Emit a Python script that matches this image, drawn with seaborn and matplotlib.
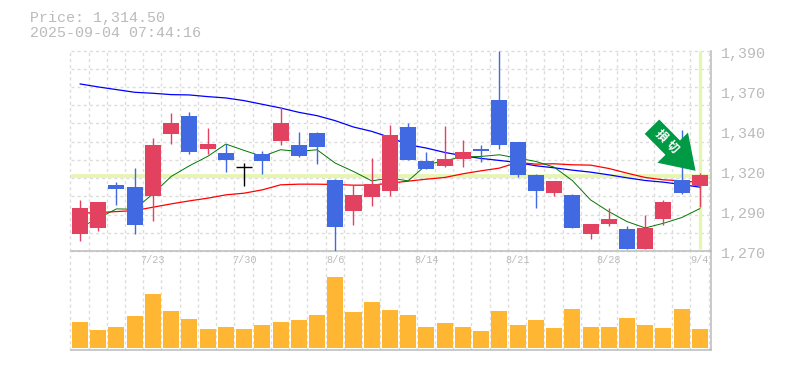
import numpy as np
import pandas as pd
import matplotlib
matplotlib.use("Agg")
import matplotlib.pyplot as plt
import seaborn as sns

opens = [1280.2,1283.8,1309.6,1308.4,1303.0,1340.2,1351.0,1331.2,1328.8,1320.2,1328.2,1336.0,1333.6,1340.8,1312.6,1294.0,1302.4,1306.0,1344.4,1324.0,1321.0,1325.2,1331.2,1360.6,1335.4,1315.6,1304.8,1303.6,1280.2,1286.2,1283.2,1271.2,1289.2,1312.6,1309.0]
closes = [1295.8,1299.4,1307.2,1285.6,1333.6,1346.8,1329.4,1334.2,1324.6,1320.2,1324.0,1346.8,1327.0,1332.4,1284.4,1303.6,1310.2,1339.6,1324.6,1319.2,1325.2,1329.4,1330.0,1333.6,1315.6,1306.0,1312.0,1283.8,1286.2,1289.2,1271.2,1283.8,1299.4,1304.8,1315.6]
highs = [1300.6,1299.4,1311.4,1319.8,1337.8,1352.8,1353.4,1343.8,1334.2,1322.8,1330.0,1356.4,1341.4,1341.4,1313.2,1309.6,1325.8,1345.6,1346.8,1329.4,1345.0,1336.6,1333.6,1390.0,1335.4,1316.2,1312.0,1304.2,1286.2,1295.8,1285.0,1291.6,1300.6,1342.6,1316.8]
lows = [1276.0,1282.0,1297.6,1280.2,1288.0,1334.2,1328.2,1328.2,1317.4,1309.0,1316.2,1333.6,1326.4,1322.2,1270.0,1285.6,1297.0,1303.0,1324.6,1319.2,1320.4,1320.4,1323.4,1331.2,1314.4,1295.8,1303.0,1283.8,1277.2,1285.0,1271.2,1271.2,1285.6,1304.2,1296.4]
ma_green = [1284,1289.6,1295.2,1295,1304.2,1314.6,1321,1326.6,1334,1330.2,1326.6,1330.6,1329.6,1330.6,1322.6,1317.6,1312,1313.6,1312,1321.6,1324.2,1326.2,1326.6,1327.6,1325.6,1323.6,1320.2,1312.2,1300.6,1293.6,1287.6,1283.8,1286.6,1290,1295.4]
ma_red = [1292.6,1293,1293.6,1294.2,1296.2,1298.2,1300,1301.6,1303.6,1304.6,1306.6,1309.6,1310,1310,1309.8,1309.4,1309.4,1310.6,1311.8,1313,1314,1316.2,1318,1319.6,1323,1322,1322.2,1321.6,1321.4,1319.4,1316.6,1314,1312.6,1312,1311]
ma_blue = [1370,1368.2,1366.6,1365,1364.4,1363.6,1363.4,1362.4,1361.6,1360,1357.8,1355.6,1353,1351,1348,1344.2,1341.6,1338,1333.6,1331.6,1329,1327,1325.4,1324.2,1323,1321,1319.8,1318.4,1317.2,1315.6,1313.8,1312.2,1311.2,1309.8,1308.2]
volume = [78,54,63,96,162,111,87,57,63,57,69,78,84,99,213,108,138,114,99,63,75,63,51,111,69,84,60,117,63,63,90,69,60,117,57]
price_ticks = [1390,1366,1342,1318,1294,1270]
price_labels = ["1,390","1,370","1,340","1,320","1,290","1,270"]
date_idx = [4,9,14,19,24,29,34]
date_labels = ["7/23","7/30","8/6","8/14","8/21","8/28","9/4"]
title_lines = ["Price: 1,314.50","2025-09-04 07:44:16"]
last_price = 1315
arrow_chars = ["損","切"]

W, H = 785, 370
RED, BLUE, ORANGE = "#E2425F", "#4169E1", "#FFB733"
GRAY, GRID, BAND = "#BBBBBB", "#DDDDDD", "#E6F5B0"
MONO = "Liberation Mono"

sns.set_style("white")
fig = plt.figure(figsize=(W/100, H/100), dpi=100, facecolor="white")
def rect(l, t, r, b):
    return [l/W, 1-b/H, (r-l)/W, (b-t)/H]
ax = fig.add_axes(rect(70.5, 50.5, 710.5, 251))
axv = fig.add_axes(rect(70.5, 251, 710.5, 350))
idx = np.arange(len(opens))
xlim = (-0.52, 34.58)

grid_x = idx - 0.53
for a in (ax, axv):
    a.vlines(grid_x, 0, 1, transform=a.get_xaxis_transform(), color=GRID, lw=1.0,
             linestyles=(0, (2.2, 2.2)), zorder=0, clip_on=False)
    a.vlines([34.5], 0, 1, transform=a.get_xaxis_transform(), color=GRID, lw=1.0,
             linestyles=(0, (2.2, 2.2)), zorder=0)
for v in np.linspace(1270, 1390, 12):
    ax.axhline(v, color=GRID, lw=1.0, ls=(0, (2.2, 2.2)), zorder=0, clip_on=False)

ax.axhline(last_price, color=BAND, lw=2.7, zorder=1)
ax.plot([34, 34], [1271, 1390], color=BAND, lw=2.4, zorder=1, solid_capstyle="butt")

for vals, col, lw in ((ma_blue, "#0000FF", 0.9), (ma_red, "#FF0000", 0.9), (ma_green, "#007700", 0.7)):
    sns.lineplot(x=idx, y=vals, color=col, lw=lw, ax=ax, legend=False, errorbar=None, zorder=2)

for i, (o, c, h, l) in enumerate(zip(opens, closes, highs, lows)):
    col = "black" if o == c else (RED if c > o else BLUE)
    ax.vlines(i, l, h, color=col, lw=1.0, zorder=3)
    if o == c:
        ax.hlines(o, i-0.44, i+0.44, color=col, lw=1.0, zorder=3)
    else:
        ax.bar(i, abs(c-o), bottom=min(o, c), width=0.88, color=col, lw=0, zorder=3)

ax.annotate("", xy=(33.76, 1318), xytext=(31.37, 1344.4), zorder=5,
            arrowprops=dict(width=14.7, headwidth=30.9, headlength=23.4, shrink=0,
                            facecolor="#009944", edgecolor="none", lw=0))
for ch, xc, yc in zip(arrow_chars, (31.85, 32.5), (1339, 1332.2)):
    ax.text(xc, yc, ch, rotation=-45, rotation_mode="anchor", ha="center", va="center",
            color="white", fontsize=8.5, fontweight="bold", family="Noto Sans CJK JP", zorder=6)

ax.set_xlim(xlim)
ax.set_ylim(1270, 1390)
ax.set_xticks([]); ax.set_xlabel(""); ax.set_ylabel("")
ax.yaxis.tick_right()
ax.set_yticks(price_ticks, price_labels)
ax.tick_params(axis="y", length=0, pad=7.3, labelcolor=GRAY, labelsize=10.8)
for t in ax.get_yticklabels():
    t.set_family(MONO)
    t.set_transform(t.get_transform() + matplotlib.transforms.ScaledTranslation(0, -1.6/100, fig.dpi_scale_trans))

sns.barplot(x=idx, y=volume, native_scale=True, color=ORANGE, saturation=1, width=0.88,
            errorbar=None, ax=axv, zorder=3, lw=0)
axv.set_xlim(xlim)
axv.set_ylim(-6, 291)
axv.set_xticks([]); axv.set_yticks([]); axv.set_xlabel(""); axv.set_ylabel("")
axv.grid(False); ax.grid(False)

for a in (ax, axv):
    a.patch.set_alpha(0)
    for s in a.spines.values():
        s.set_visible(False)
    for side in ("right", "bottom"):
        a.spines[side].set_visible(True)
        a.spines[side].set_color(GRAY)
        a.spines[side].set_linewidth(1.1)

for i, lab in zip(date_idx, date_labels):
    axv.annotate(lab, xy=(i, 1), xycoords=axv.get_xaxis_transform(), xytext=(0, -9),
                 textcoords="offset pixels", ha="center", va="center", color=GRAY,
                 fontsize=7.4, family=MONO, zorder=6)

for line, y in zip(title_lines, (18, 33)):
    fig.text(30/W, 1-y/H, line, color=GRAY, fontsize=10.8, family=MONO, ha="left", va="center")

fig.savefig("out.png", dpi=100, facecolor="white")
